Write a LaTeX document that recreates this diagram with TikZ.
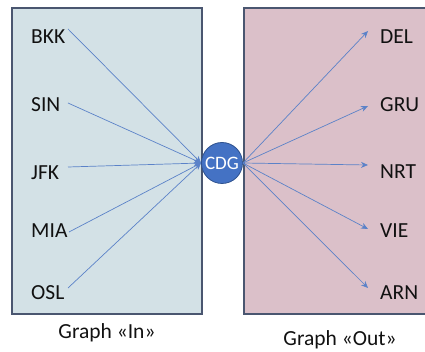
\documentclass[tikz,border=0pt]{standalone}
\usepackage{fontspec}
\setmainfont{Carlito}
\usetikzlibrary{arrows.meta}
\definecolor{inbg}{HTML}{D3E1E6}
\definecolor{outbg}{HTML}{DBC0C9}
\definecolor{frame}{HTML}{4A5670}
\definecolor{edge}{HTML}{5B82C8}
\definecolor{hub}{HTML}{4472C4}
\definecolor{hubline}{HTML}{2F528F}
\definecolor{txt}{HTML}{111111}
\begin{document}
\begin{tikzpicture}[x=1pt,y=-1pt,
  panel/.style={draw=frame,line width=1.3pt},
  code/.style={font=\fontsize{21.5}{24}\selectfont,text=txt,inner sep=0pt,anchor=west},
  caption/.style={font=\fontsize{21.5}{24}\selectfont,text=txt,inner sep=0pt},
  link/.style={draw=edge,line width=0.7pt,-{Stealth[length=7pt,width=6pt]}},
  hubnode/.style={circle,fill=hub,draw=hubline,line width=0.8pt,minimum size=41pt,inner sep=0pt,text=white,font=\fontsize{19}{20}\selectfont}]
\useasboundingbox (0,0) rectangle (425,352);
\clip (0,0) rectangle (425,352);
\fill[inbg] (12,8) rectangle (202,314);
\draw[panel] (12,8) rectangle (202,314);
\fill[outbg] (244,8) rectangle (440,314);
\draw[panel] (244,8) rectangle (440,314);
% left labels
\node[code] (bkk) at (31,37) {BKK};
\node[code] (sin) at (31,105) {SIN};
\node[code] (jfk) at (31,173) {JFK};
\node[code] (mia) at (31,231) {MIA};
\node[code] (osl) at (31,293) {OSL};
% right labels
\node[code] (del) at (380,37) {DEL};
\node[code] (gru) at (380,105) {GRU};
\node[code] (nrt) at (380,172) {NRT};
\node[code] (vie) at (380,231) {VIE};
\node[code] (arn) at (380,293) {ARN};
% hub
\node[hubnode] (cdg) at (222,163) {CDG};
% start / tip coordinates
\coordinate (sbkk) at (68,29);
\coordinate (ssin) at (68,103);
\coordinate (sjfk) at (68,167);
\coordinate (smia) at (69,232);
\coordinate (sosl) at (68,288);
\coordinate (tdel) at (368,31);
\coordinate (tgru) at (368,106);
\coordinate (tnrt) at (368,165);
\coordinate (tvie) at (368,229);
\coordinate (tarn) at (368,288);
% incoming
\foreach \s in {sbkk,ssin,sjfk,smia,sosl}
  \draw[link] (\s) -- (cdg.west);
% outgoing
\foreach \t in {tdel,tgru,tnrt,tvie,tarn}
  \draw[link] (cdg.east) -- (\t);
% captions
\node[caption] (capin) at (107,333) {Graph «In»};
\node[caption] (capout) at (340,340) {Graph «Out»};
\end{tikzpicture}
\end{document}
